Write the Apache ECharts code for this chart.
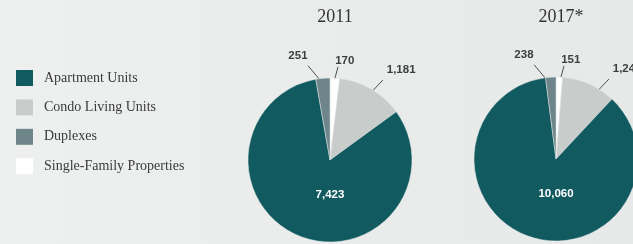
<!DOCTYPE html>
<html>
<head>
<meta charset="UTF-8">
<title></title>
<script src="https://cdn.jsdelivr.net/npm/echarts@6/dist/echarts.min.js"></script>
<style>
  html, body { margin: 0; padding: 0; }
  #main { width: 633px; height: 244px; }
</style>
</head>
<body>
<div id="main"></div>
<script>
// slice order clockwise from 12 o'clock
var categories = ['Single-Family Properties', 'Condo Living Units', 'Apartment Units', 'Duplexes'];
var legendOrder = ['Apartment Units', 'Condo Living Units', 'Duplexes', 'Single-Family Properties'];
var years = ['2011', '2017*'];
var units2011 = [170, 1181, 7423, 251];
var units2017 = [151, 1248, 10060, 238];

var colors = {
    'Apartment Units': '#115a60',
    'Condo Living Units': '#c8cdcc',
    'Duplexes': '#6e868a',
    'Single-Family Properties': '#ffffff'
};

var R = 82;
var centers = [[330, 160], [556, 159]];

// callout geometry: angle (deg, clockwise from top) and radius (x R)
var callout = {
    'Duplexes':                 { label: [-17.1, 1.33], start: [-13.1, 1.18], end: [-6.2, 0.96] },
    'Single-Family Properties': { label: [8.5, 1.22],   start: [4.9, 1.14],   end: [2.6, 0.93] },
    'Condo Living Units':       { label: [38.3, 1.40],  start: [33.5, 1.17],  end: [30, 0.87] }
};

function polar(c, a, r) {
    var rad = a * Math.PI / 180;
    return [c[0] + r * R * Math.sin(rad), c[1] - r * R * Math.cos(rad)];
}

function fmt(v) {
    return v.toLocaleString('en-US');
}

function makeSeries(values, idx) {
    var c = centers[idx];
    return {
        name: years[idx],
        type: 'pie',
        center: c,
        radius: R,
        startAngle: 90,
        clockwise: true,
        avoidLabelOverlap: false,
        silent: true,
        itemStyle: { borderColor: '#e3e6e6', borderWidth: 0.5 },
        label: {
            show: true,
            position: 'outside',
            formatter: function (p) { return fmt(p.value); },
            fontFamily: 'Liberation Sans',
            fontWeight: 'bold',
            fontSize: 11.5,
            color: '#3d3f3f'
        },
        labelLine: {
            show: true,
            lineStyle: { color: '#4d5050', width: 1 }
        },
        labelLayout: function (p) {
            var name = categories[p.dataIndex];
            if (name === 'Apartment Units') {
                return { x: c[0], y: c[1] + 35, align: 'center', verticalAlign: 'middle' };
            }
            var g = callout[name];
            var lp = polar(c, g.label[0], g.label[1]);
            return {
                x: lp[0], y: lp[1], align: 'center', verticalAlign: 'middle',
                labelLinePoints: [polar(c, g.start[0], g.start[1]), polar(c, g.end[0], g.end[1])]
            };
        },
        data: categories.map(function (name, i) {
            var d = { name: name, value: values[i], itemStyle: { color: colors[name] } };
            if (name === 'Apartment Units') {
                d.label = { color: '#ffffff' };
                d.labelLine = { show: false };
            }
            return d;
        })
    };
}

var myChart = echarts.init(document.getElementById('main'));

var option = {
    animation: false,
    backgroundColor: {
        type: 'linear', x: 0, y: 0, x2: 1, y2: 0,
        colorStops: [{ offset: 0, color: '#eef0f0' }, { offset: 1, color: '#e7e9e9' }]
    },
    title: years.map(function (y, i) {
        return {
            text: y,
            left: centers[i][0],
            top: 3,
            textAlign: 'center',
            textStyle: { fontFamily: 'Liberation Serif', fontSize: 18, fontWeight: 'normal', color: '#333333' }
        };
    }),
    legend: {
        orient: 'vertical',
        left: 16,
        top: 70,
        padding: 0,
        itemWidth: 17,
        itemHeight: 16,
        itemGap: 13.4,
        icon: 'rect',
        selectedMode: false,
        data: legendOrder.map(function (n) {
            return { name: n, itemStyle: { color: colors[n], borderWidth: 0 } };
        }),
        textStyle: {
            fontFamily: 'Liberation Serif',
            fontSize: 14,
            color: '#3a3a3a',
            padding: [0, 0, 0, 6]
        }
    },
    series: [makeSeries(units2011, 0), makeSeries(units2017, 1)]
};

myChart.setOption(option);
</script>
</body>
</html>
